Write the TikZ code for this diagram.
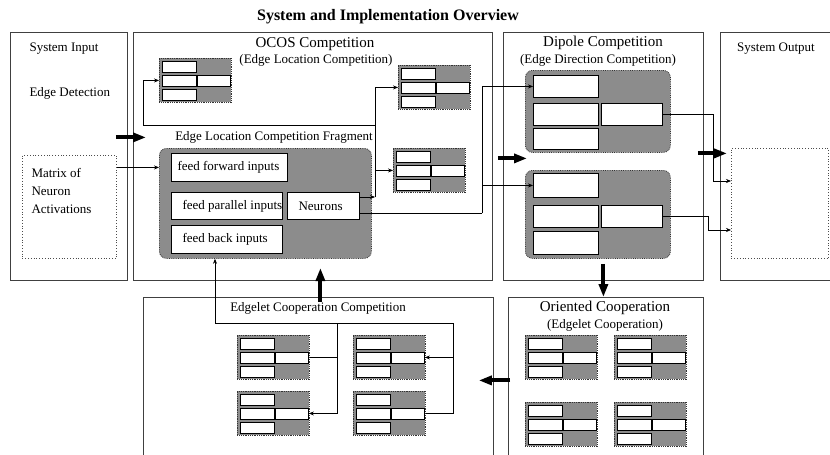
\documentclass[tikz,border=0pt]{standalone}
\usepackage{fontspec}
\setmainfont{Liberation Serif}
\usetikzlibrary{arrows.meta,positioning}

\newcommand{\txt}{\fontsize{13}{15}\selectfont}
\newcommand{\hdr}{\fontsize{15}{17}\selectfont}

\tikzset{
  panel/.style={draw=black!75, line width=0.8pt, anchor=north west, inner sep=0pt},
  hatch/.style={draw=black!80, densely dotted, fill=black!45, line width=0.8pt, anchor=north west, inner sep=0pt},
  wbox/.style={draw=black, fill=white, line width=0.9pt, anchor=north west, inner sep=0pt},
  dotbox/.style={draw=black!70, dotted, line width=0.8pt, anchor=north west, inner sep=0pt},
  conn/.style={-{Stealth[length=5pt,width=4pt]}, line width=0.6pt},
  bigarrow/.style={line width=4pt, -{Triangle[length=13pt,width=9pt]}},
}

% small neuron fragment: name, x, y (top left)
\newcommand{\smallfrag}[3]{%
  \node[hatch, minimum width=72pt, minimum height=44pt] (#1) at (#2,#3) {};
  \node[wbox, minimum width=34pt, minimum height=11pt] (#1a) at ([shift={(3,2.5)}]#1.north west) {};
  \node[wbox, minimum width=34pt, minimum height=11pt] (#1b) at ([shift={(3,16.5)}]#1.north west) {};
  \node[wbox, minimum width=34pt, minimum height=11pt] (#1c) at ([shift={(3,30.5)}]#1.north west) {};
  \node[wbox, minimum width=33pt, minimum height=11pt] (#1d) at ([shift={(38,16.5)}]#1.north west) {};
}

\begin{document}
\begin{tikzpicture}[x=1pt,y=-1pt]
  \useasboundingbox (0,0) rectangle (830,455);
  \node[font=\fontsize{16}{18}\selectfont\bfseries] (title) at (388,17) {System and Implementation Overview};

  % panels
  \node[panel, minimum width=117pt, minimum height=248pt] (inbox) at (10,32) {};
  \node[panel, minimum width=359pt, minimum height=248pt] (ocosbox) at (133,32) {};
  \node[panel, minimum width=200pt, minimum height=248pt] (dipbox) at (503,32) {};
  \node[panel, minimum width=130pt, minimum height=248pt] (outbox) at (720,32) {};
  \node[panel, minimum width=350pt, minimum height=180pt] (edgbox) at (143,297) {};
  \node[panel, minimum width=195pt, minimum height=180pt] (oribox) at (508,297) {};

  % system input
  \node[font=\txt, anchor=west] (insys) at (26,49) {System Input};
  \node[font=\txt, anchor=west] (inedge) at (26,93) {Edge Detection};
  \node[dotbox, minimum width=94pt, minimum height=103pt] (matrix) at (22,155) {};
  \node[font=\fontsize{13}{18}\selectfont, align=left, anchor=north west] (mattxt) at (28,165) {Matrix of\\Neuron\\Activations};

  % OCOS competition
  \node[font=\hdr] (ocostitle) at (315,44) {OCOS Competition};
  \node[font=\txt] (ocossub) at (316,60) {(Edge Location Competition)};
  \node[font=\txt] (elcftitle) at (274,137) {Edge Location Competition Fragment};
  \node[hatch, rounded corners=7pt, minimum width=212pt, minimum height=110pt] (elcf) at (159,148) {};
  \node[wbox, minimum width=116pt, minimum height=28pt] (ff) at (171,153) {};
  \node[wbox, minimum width=111pt, minimum height=27pt] (fp) at (171,192) {};
  \node[wbox, minimum width=72pt, minimum height=27pt] (nr) at (287,192) {};
  \node[wbox, minimum width=111pt, minimum height=28pt] (fb) at (171,225) {};
  \node[font=\txt, anchor=west] (fftxt) at ([xshift=3pt]ff.west) {feed forward inputs};
  \node[font=\txt, anchor=west] (fptxt) at ([xshift=8pt]fp.west) {feed parallel inputs};
  \node[font=\txt, anchor=west] (nrtxt) at ([xshift=8pt]nr.west) {Neurons};
  \node[font=\txt, anchor=west] (fbtxt) at ([xshift=8pt]fb.west) {feed back inputs};
  \smallfrag{oc1}{159}{58}
  \smallfrag{oc2}{398}{65}
  \smallfrag{oc3}{393}{148}

  % dipole competition
  \node[font=\hdr] (diptitle) at (603,43) {Dipole Competition};
  \node[font=\txt] (dipsub) at (598,60) {(Edge Direction Competition)};
  \node[hatch, rounded corners=7pt, minimum width=145pt, minimum height=82pt] (dpa) at (525,70) {};
  \node[wbox, minimum width=65pt, minimum height=22pt] (dpa1) at (533,75) {};
  \node[wbox, minimum width=65pt, minimum height=22pt] (dpa2) at (533,103) {};
  \node[wbox, minimum width=61pt, minimum height=22pt] (dpa4) at (601,103) {};
  \node[wbox, minimum width=65pt, minimum height=21pt] (dpa3) at (533,128) {};
  \node[hatch, rounded corners=7pt, minimum width=145pt, minimum height=88pt] (dpb) at (525,170) {};
  \node[wbox, minimum width=65pt, minimum height=24pt] (dpb1) at (533,173) {};
  \node[wbox, minimum width=65pt, minimum height=22pt] (dpb2) at (533,205) {};
  \node[wbox, minimum width=61pt, minimum height=22pt] (dpb4) at (601,205) {};
  \node[wbox, minimum width=65pt, minimum height=23pt] (dpb3) at (533,231) {};

  % system output
  \node[font=\txt] (outtitle) at (776,49) {System Output};
  \node[dotbox, minimum width=97pt, minimum height=110pt] (outmat) at (731,148) {};

  % edgelet cooperation competition
  \node[font=\txt] (edgtitle) at (318,308) {Edgelet Cooperation Competition};
  \smallfrag{eg1}{237}{335}
  \smallfrag{eg2}{353}{335}
  \smallfrag{eg3}{237}{391}
  \smallfrag{eg4}{353}{391}

  % oriented cooperation
  \node[font=\hdr] (orititle) at (605,308) {Oriented Cooperation};
  \node[font=\txt] (orisub) at (605,325) {(Edgelet Cooperation)};
  \smallfrag{or1}{525}{335}
  \smallfrag{or2}{614}{335}
  \smallfrag{or3}{525}{402}
  \smallfrag{or4}{614}{402}

  % thin connectors
  \draw[conn] (matrix.east |- ff) -- (elcf.west |- ff);
  \coordinate (jn) at (375,197);
  \coordinate (jl) at (143,125);
  \draw[conn] (nr.east |- jn) -- (jn);
  \draw[conn] (jn) |- (oc2.west |- oc2b);
  \draw[conn] (jn) |- (oc3.west |- oc3b);
  \draw[conn] (jn) |- (jl) |- (oc1.west |- oc1b);
  \coordinate (jd) at (482,213);
  \draw (nr.east |- jd) -- (jd);
  \draw[conn] (jd) |- (dpa1.west);
  \draw[conn] (jd) |- (dpb1.west);
  \coordinate (ka) at (713,181);
  \coordinate (kb) at (708,230);
  \draw[conn] (dpa4.east) -| (ka) -- (outmat.west |- ka);
  \draw[conn] (dpb4.east) -| (kb) -- (outmat.west |- kb);
  \coordinate (ma) at (215,323);
  \coordinate (mb) at (337,323);
  \coordinate (mc) at (453,323);
  \draw[conn] (mc) -- (ma) -- (elcf.south -| ma);
  \draw (eg1.east |- eg1d) -| (mb);
  \draw[conn] (mb) |- (eg3d.east);
  \draw[conn] (mc) |- (eg2d.east);
  \draw (eg4.east |- eg4d) -| (mc);

  % block arrows between stages
  \draw[bigarrow] ([shift={(-12,-19)}]inbox.east) -- ([shift={(13,-19)}]ocosbox.west);
  \draw[bigarrow] ([shift={(5,2)}]ocosbox.east) -- ([shift={(24,2)}]dipbox.west);
  \draw[bigarrow] ([shift={(-6,-3)}]dipbox.east) -- ([shift={(7,-3)}]outbox.west);
  \draw[bigarrow] ([shift={(0,-17)}]dipbox.south) -- (dipbox.south |- oribox.north);
  \draw[bigarrow] ([shift={(2,-7)}]oribox.west) -- ([shift={(-15,-7)}]edgbox.east);
  \draw[bigarrow] ([shift={(2,5)}]edgbox.north) -- ([shift={(2,-29)}]edgbox.north);
\end{tikzpicture}
\end{document}
